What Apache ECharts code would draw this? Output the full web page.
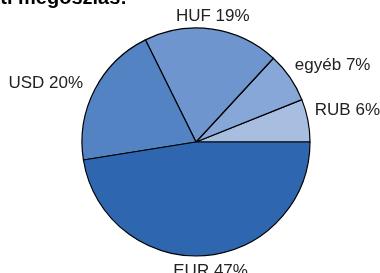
<!DOCTYPE html>
<html>
<head>
<meta charset="utf-8">
<script src="https://cdn.jsdelivr.net/npm/echarts@6/dist/echarts.min.js"></script>
<style>
  html, body { margin: 0; padding: 0; background: #fff; }
  #chart { width: 380px; height: 273px; }
</style>
</head>
<body>
<div id="chart"></div>
<script>
// currency split, counter-clockwise from 3 o'clock
const categories = ['RUB', 'egyéb', 'HUF', 'USD', 'EUR'];
const shares = [6, 7, 19, 20, 47];
const sliceColors = ['#a7bee0', '#86a7d7', '#6e95cd', '#5383c3', '#2e67af'];

// excel-ish label placement: gap from the rim + how the box hangs on that point
const labelGap = [7, 6, 4, 13, 7];
const labelFit = [
    { align: 'left', verticalAlign: 'bottom' },
    { align: 'left', verticalAlign: 'bottom' },
    { align: 'center', verticalAlign: 'bottom' },
    { align: 'right', verticalAlign: 'middle' },
    { align: 'center', verticalAlign: 'top', dx: 5 },
];

const chart = echarts.init(document.getElementById('chart'));

const option = {
    animation: false,
    graphic: [
        {
            type: 'text',
            x: 127,
            y: 8,
            style: {
                text: 'Devizanemenkénti megoszlás:',
                align: 'right',
                verticalAlign: 'bottom',
                font: 'bold 20px Arial, "Liberation Sans", sans-serif',
                fill: '#000',
            },
        },
    ],
    series: [
        {
            type: 'pie',
            center: [196, 142],
            radius: 114,
            startAngle: 0,
            clockwise: false,
            avoidLabelOverlap: false,
            itemStyle: {
                borderColor: '#000',
                borderWidth: 1.2,
            },
            label: {
                show: true,
                position: 'outside',
                distanceToLabelLine: 0,
                formatter: p => p.name + ' ' + p.value + '%',
                color: '#222',
                fontFamily: 'Arial, "Liberation Sans", sans-serif',
                fontSize: 17,
            },
            labelLine: {
                show: false,
                length2: 0,
            },
            labelLayout: params => labelFit[params.dataIndex],
            data: categories.map((name, i) => ({
                name: name,
                value: shares[i],
                itemStyle: { color: sliceColors[i] },
                labelLine: { show: false, length: labelGap[i], length2: 0 },
            })),
        },
    ],
};

chart.setOption(option);
</script>
</body>
</html>
